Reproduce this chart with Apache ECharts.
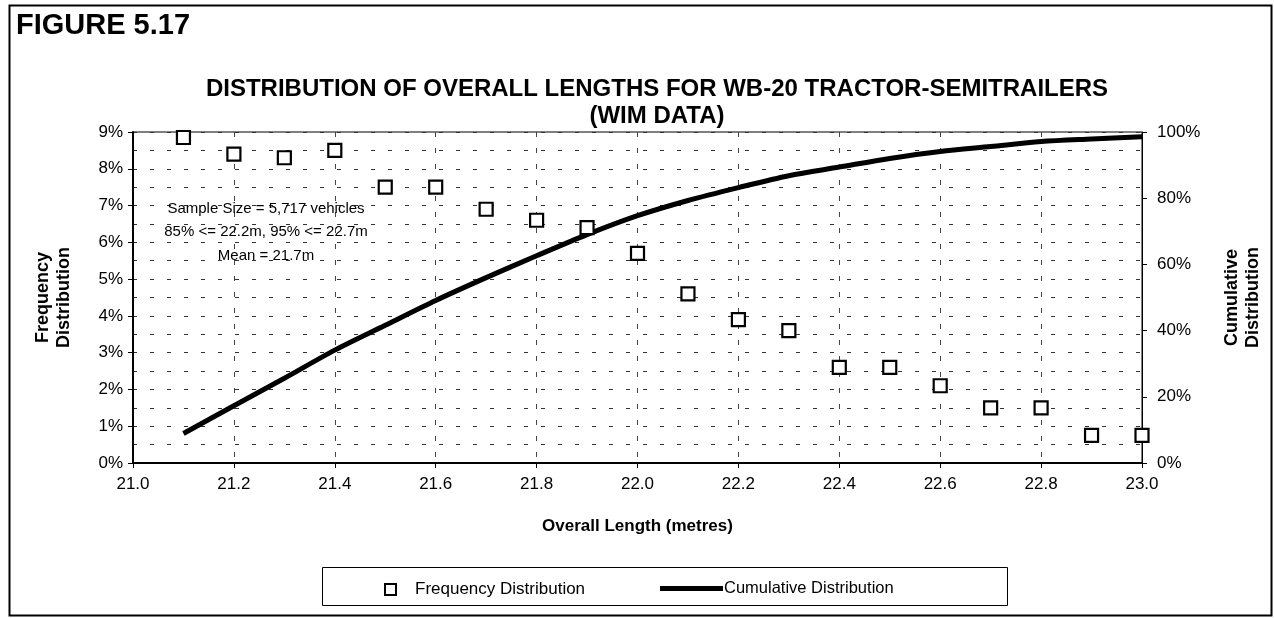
<!DOCTYPE html>
<html>
<head>
<meta charset="utf-8">
<script src="https://cdn.jsdelivr.net/npm/echarts@6/dist/echarts.min.js"></script>
<style>
html,body{margin:0;padding:0;background:#fff;}
#chart{width:1274px;height:618px;}
</style>
</head>
<body>
<div id="chart"></div>
<script>
var lengths = [21.1, 21.2, 21.3, 21.4, 21.5, 21.6, 21.7, 21.8, 21.9, 22.0, 22.1, 22.2, 22.3, 22.4, 22.5, 22.6, 22.7, 22.8, 22.9, 23.0];
var frequency = [8.85, 8.4, 8.3, 8.5, 7.5, 7.5, 6.9, 6.6, 6.4, 5.7, 4.6, 3.9, 3.6, 2.6, 2.6, 2.1, 1.5, 1.5, 0.75, 0.75];
var cumulative = [8.9, 17.3, 25.6, 34.1, 41.6, 49.1, 56.0, 62.6, 69.0, 74.7, 79.3, 83.2, 86.8, 89.4, 92.0, 94.1, 95.6, 97.1, 97.9, 98.6];
var annotationLines = ['Sample Size = 5,717 vehicles', '85% <= 22.2m, 95% <= 22.7m', 'Mean = 21.7m'];

var FONT = '"Liberation Sans", Arial, Helvetica, sans-serif';
var freqData = lengths.map(function (x, i) { return [x, frequency[i]]; });
var cumData = lengths.map(function (x, i) { return [x, cumulative[i]]; });

var chart = echarts.init(document.getElementById('chart'), null, {renderer: 'canvas'});
var dash = [4, 13];
var option = {
  backgroundColor: '#fff',
  animation: false,
  textStyle: {fontFamily: FONT, color: '#000'},
  title: [
    {text: 'FIGURE 5.17', left: 11, top: 6, textStyle: {fontFamily: FONT, fontSize: 29, fontWeight: 'bold', color: '#000'}},
    {text: 'DISTRIBUTION OF OVERALL LENGTHS FOR WB-20 TRACTOR-SEMITRAILERS\n(WIM DATA)', left: 652, textAlign: 'center', top: 71,
     textStyle: {fontFamily: FONT, fontSize: 24, fontWeight: 'bold', color: '#000', lineHeight: 27}}
  ],
  grid: {left: 133, right: 132, top: 132, bottom: 155, show: true, borderColor: '#000', borderWidth: 1, backgroundColor: 'transparent'},
  xAxis: {
    type: 'value', min: 21, max: 23, interval: 0.2,
    name: 'Overall Length (metres)', nameLocation: 'middle', nameGap: 55,
    nameTextStyle: {fontFamily: FONT, fontSize: 17, fontWeight: 'bold', color: '#000'},
    axisLine: {show: true, lineStyle: {color: '#000', width: 2}},
    axisTick: {show: true, length: 5, lineStyle: {color: '#000'}},
    axisLabel: {fontFamily: FONT, fontSize: 17, color: '#000', margin: 13, formatter: function (v) { return v.toFixed(1); }},
    splitLine: {show: true, lineStyle: {color: '#444', width: 1, type: [5, 11]}}
  },
  yAxis: [
    {
      type: 'value', min: 0, max: 9, interval: 1, position: 'left',
      name: 'Frequency\nDistribution', nameLocation: 'middle', nameRotate: 90, nameGap: 58,
      nameTextStyle: {fontFamily: FONT, fontSize: 18, fontWeight: 'bold', color: '#000', lineHeight: 21},
      axisLine: {show: true, lineStyle: {color: '#000', width: 2}},
      axisTick: {show: true, length: 5, lineStyle: {color: '#000'}},
      axisLabel: {fontFamily: FONT, fontSize: 17, color: '#000', margin: 10, formatter: '{value}%'},
      splitLine: {show: true, lineStyle: {color: '#333', width: 1, type: dash}},
      minorTick: {show: false, splitNumber: 2},
      minorSplitLine: {show: true, lineStyle: {color: '#333', width: 1, type: dash}}
    },
    {
      type: 'value', min: 0, max: 100, interval: 20, position: 'right',
      name: 'Cumulative\nDistribution', nameLocation: 'middle', nameRotate: 90, nameGap: 80,
      nameTextStyle: {fontFamily: FONT, fontSize: 18, fontWeight: 'bold', color: '#000', lineHeight: 21},
      axisLine: {show: true, lineStyle: {color: '#000', width: 1}},
      axisTick: {show: true, length: 5, lineStyle: {color: '#000'}},
      axisLabel: {fontFamily: FONT, fontSize: 17, color: '#000', margin: 15, formatter: '{value}%'},
      splitLine: {show: false}
    }
  ],
  legend: [
    {data: [{name: 'Frequency Distribution', icon: 'rect', itemStyle: {color: '#fff', borderColor: '#000', borderWidth: 2}}],
     left: 379, top: 576, itemWidth: 11, itemHeight: 11, selectedMode: false,
     textStyle: {fontFamily: FONT, fontSize: 17, color: '#000', padding: [0, 0, 0, 14]}},
    {data: [{name: 'Cumulative Distribution', icon: 'rect', itemStyle: {color: '#000', borderWidth: 0}}],
     left: 655, top: 575, itemWidth: 63, itemHeight: 5, selectedMode: false,
     textStyle: {fontFamily: FONT, fontSize: 16.5, color: '#000', padding: [0, 0, 0, -4]}}
  ],
  graphic: [
    {type: 'rect', left: 7, top: 3, shape: {width: 1262, height: 610}, style: {fill: 'none', stroke: '#000', lineWidth: 2}, silent: true},
    {type: 'rect', left: 320, top: 565, shape: {width: 685, height: 38}, style: {fill: 'none', stroke: '#000', lineWidth: 1}, silent: true},
    {type: 'text', x: 266, y: 197, style: {text: annotationLines.join('\n'), textAlign: 'center',
      font: '15px ' + FONT, fill: '#000', lineHeight: 23.5}, z: 10}
  ],
  series: [
    {
      name: 'Frequency Distribution', type: 'scatter', yAxisIndex: 0, data: freqData,
      symbol: 'rect', symbolSize: 13,
      itemStyle: {color: '#fff', borderColor: '#000', borderWidth: 2.2, opacity: 1}, z: 5
    },
    {
      name: 'Cumulative Distribution', type: 'line', yAxisIndex: 1, data: cumData,
      symbol: 'none', smooth: 0.3, lineStyle: {color: '#000', width: 5}, itemStyle: {color: '#000'}, z: 4
    }
  ]
};
chart.setOption(option);
</script>
</body>
</html>
